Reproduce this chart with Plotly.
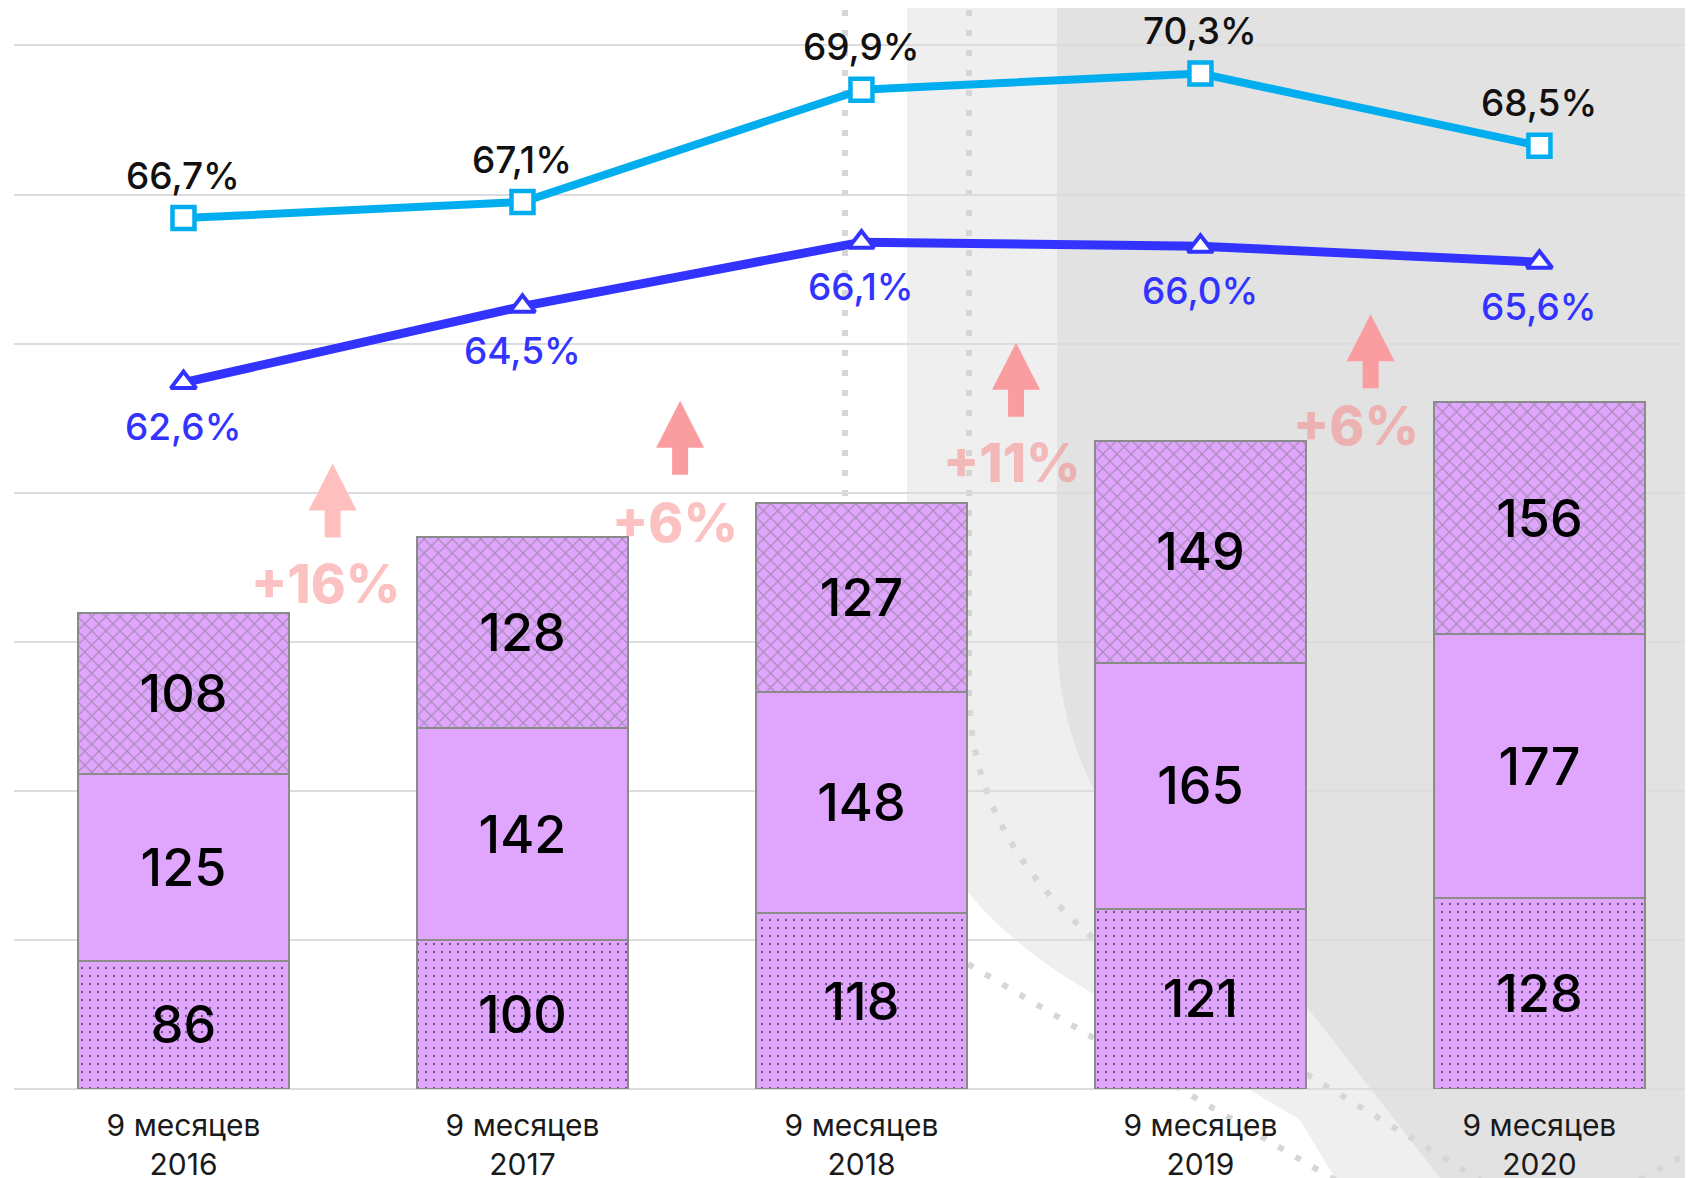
import plotly.graph_objects as go

# ---------------- data ----------------
categories = ["9 месяцев<br>2016", "9 месяцев<br>2017", "9 месяцев<br>2018",
              "9 месяцев<br>2019", "9 месяцев<br>2020"]
seg_bottom = [86, 100, 118, 121, 128]
seg_middle = [125, 142, 148, 165, 177]
seg_top = [108, 128, 127, 149, 156]
share_light = [66.7, 67.1, 69.9, 70.3, 68.5]
share_dark = [62.6, 64.5, 66.1, 66.0, 65.6]
growth_labels = ["+16%", "+6%", "+11%", "+6%"]

# ---------------- style / layout constants ----------------
PAGE_W, PAGE_H = 1693, 1178
OFF = 8                      # default body margin of the html page
W, H = PAGE_W - OFF, PAGE_H - OFF
PLOT_L, PLOT_T, PLOT_B = 14, 44, 1089   # plot area in page pixels
ML, MR = PLOT_L - OFF, 0
MT = PLOT_T - OFF
MB = PAGE_H - PLOT_B
Y_MAX = 701
FONT = "Inter"
BAR_COLOR = "#E0A6FE"
EDGE = "#8a8a8a"
LIGHT_BLUE = "#00AEEF"
DARK_BLUE = "#3333FF"

arrow_x = [0.44, 1.465, 2.456, 3.502]
arrow_base = [370, 412, 451, 470]
arrow_colors = ["#FFBFBF", "#F99DA0", "#F99DA0", "#F99DA0"]
gtext_x = [0.42, 1.45, 2.443, 3.459]
gtext_y = [339, 380, 420, 445]


def fmt(v):
    return f"{v:.1f}".replace(".", ",") + "%"


fig = go.Figure()

seg_specs = [
    (seg_bottom, dict(shape=".", fgcolor="#000000", size=8, solidity=0.07, fillmode="overlay")),
    (seg_middle, None),
    (seg_top, dict(shape="x", fgcolor="#6e6e6e", size=10, solidity=0.22, fillmode="overlay")),
]
for vals, pat in seg_specs:
    marker = dict(color=BAR_COLOR, line=dict(color=EDGE, width=2))
    if pat:
        marker["pattern"] = pat
    fig.add_trace(go.Bar(
        x=categories, y=vals, marker=marker,
        text=[str(v) for v in vals], textposition="inside",
        insidetextanchor="middle", textangle=0, constraintext="none",
        textfont=dict(family=FONT, size=52, color="#000000", weight=500),
        hoverinfo="skip", showlegend=False,
    ))

fig.add_trace(go.Scatter(
    x=categories, y=share_light, yaxis="y2", mode="lines+markers",
    line=dict(color=LIGHT_BLUE, width=8),
    marker=dict(symbol="square", size=22, color="white",
                line=dict(color=LIGHT_BLUE, width=4.5)),
    cliponaxis=False, showlegend=False, hoverinfo="skip",
))
fig.add_trace(go.Scatter(
    x=categories, y=share_dark, yaxis="y2", mode="lines+markers",
    line=dict(color=DARK_BLUE, width=9),
    marker=dict(symbol="triangle-up", size=22, color="white",
                line=dict(color=DARK_BLUE, width=4)),
    cliponaxis=False, showlegend=False, hoverinfo="skip",
))

annotations = []
for c, v in zip(categories, share_light):
    annotations.append(dict(x=c, y=v, xref="x", yref="y2", text=fmt(v),
                            showarrow=False, yshift=43,
                            font=dict(family=FONT, size=37, color="#111111", weight=500)))
for c, v in zip(categories, share_dark):
    annotations.append(dict(x=c, y=v, xref="x", yref="y2", text=fmt(v),
                            showarrow=False, yshift=-44,
                            font=dict(family=FONT, size=37, color=DARK_BLUE, weight=500)))
for lbl, gx, gy in zip(growth_labels, gtext_x, gtext_y):
    annotations.append(dict(x=gx, y=gy, xref="x", yref="y", text=lbl,
                            showarrow=False,
                            font=dict(family=FONT, size=53, weight=800,
                                      color="rgba(248,120,120,0.45)")))


# ------------- decorative background (page pixel -> paper) -------------
PW = PAGE_W - PLOT_L
PH = PLOT_B - PLOT_T


def P(x, y):
    return f"{(x - PLOT_L) / PW:.5f},{(PLOT_B - y) / PH:.5f}"


shapes = []
light_path = (f"M {P(907, 0)} L {P(907, 760)} Q {P(930, 900)} {P(1092, 993)} "
              f"L {P(1250, 1090)} L {P(1300, 1120)} L {P(1335, 1178)} "
              f"L {P(1693, 1178)} L {P(1693, 0)} Z")
dark_path = (f"M {P(1057, 0)} L {P(1057, 640)} Q {P(1060, 790)} {P(1180, 900)} "
             f"L {P(1307, 1007)} L {P(1440, 1178)} L {P(1693, 1178)} L {P(1693, 0)} Z")
shapes.append(dict(type="path", path=light_path, xref="paper", yref="paper",
                   fillcolor="#EFEFEF", line=dict(width=0), layer="below"))
shapes.append(dict(type="path", path=dark_path, xref="paper", yref="paper",
                   fillcolor="#E2E2E2", line=dict(width=0), layer="below"))

dot_line = dict(color="#D6D6D6", width=6, dash="6px,14px")
dotted_paths = [
    f"M {P(845, 10)} L {P(845, 1089)}",
    f"M {P(969, 10)} L {P(969, 700)} Q {P(975, 850)} {P(1120, 960)} L {P(1480, 1180)}",
    f"M {P(968, 964)} L {P(1335, 1180)}",
    f"M {P(1640, 1180)} L {P(1693, 1150)}",
]
for p in dotted_paths:
    shapes.append(dict(type="path", path=p, xref="paper", yref="paper",
                       line=dot_line, layer="below"))

# growth arrows: pixel-sized path anchored at data position
arrow_path = "M -8,0 L 8,0 L 8,27 L 24,27 L 0,74 L -24,27 L -8,27 Z"
for ax, ab, col in zip(arrow_x, arrow_base, arrow_colors):
    shapes.append(dict(type="path", path=arrow_path, xref="x", yref="y",
                       xsizemode="pixel", ysizemode="pixel",
                       xanchor=ax, yanchor=ab,
                       fillcolor=col, line=dict(width=0), layer="above"))

fig.update_layout(
    width=W, height=H,
    margin=dict(l=ML, r=MR, t=MT, b=MB, autoexpand=False),
    paper_bgcolor="white", plot_bgcolor="rgba(0,0,0,0)",
    barmode="stack", bargap=0.376,
    font=dict(family=FONT),
    xaxis=dict(type="category", range=[-0.5, 4.453], showgrid=False,
               showline=False, ticks="", zeroline=False, automargin=False,
               ticklabelstandoff=16,
               tickfont=dict(family=FONT, size=30, color="#1a1a1a")),
    yaxis=dict(range=[0, Y_MAX], dtick=100, showticklabels=False,
               gridcolor="#DCDCDC", gridwidth=2, zeroline=True,
               zerolinecolor="#DCDCDC", zerolinewidth=2, showline=False),
    yaxis2=dict(range=[45, 45 + Y_MAX * 26 / 700], overlaying="y", visible=False),
    annotations=annotations,
    shapes=shapes,
)

fig.write_html("out.html")
